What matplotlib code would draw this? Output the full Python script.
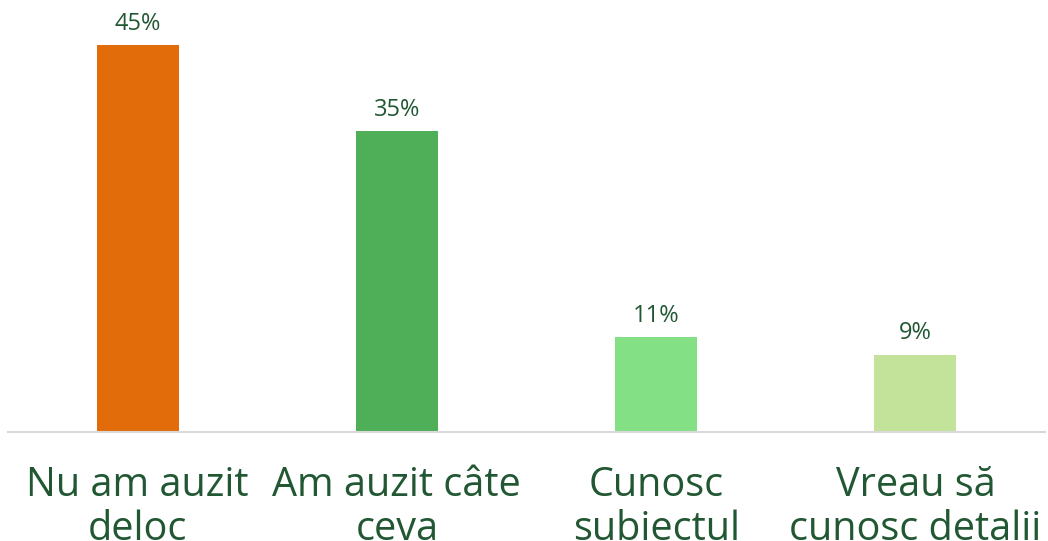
import matplotlib
matplotlib.use("Agg")
import matplotlib.pyplot as plt

categories = ["Nu am auzit\ndeloc", "Am auzit câte\nceva", "Cunosc\nsubiectul", "Vreau să\ncunosc detalii"]
values = [45, 35, 11, 9]
colors = ["#E36C0A", "#4FAF59", "#84E084", "#C3E39A"]
text_color = "#215732"

plt.rcParams['font.family'] = ['Open Sans', 'DejaVu Sans']

fig = plt.figure(figsize=(10.48, 5.41), dpi=100)
ax = fig.add_axes([8/1048, 1-432/541, 1037/1048, 430/541])
x = range(len(categories))
bars = ax.bar(x, values, width=0.316, color=colors)
ax.set_xlim(-0.5, len(categories)-0.5)
ax.set_ylim(0, 50)
for xi, v in zip(x, values):
    ax.text(xi, v + 1.1, f"{v}%", ha="center", va="bottom", fontsize=17, color=text_color)
ax.set_xticks(list(x))
ax.set_xticklabels(categories, fontsize=28.5, color=text_color, linespacing=1.12)
ax.tick_params(axis='x', length=0, pad=24)
ax.set_yticks([])
for s in ["top", "left", "right"]:
    ax.spines[s].set_visible(False)
ax.spines["bottom"].set_color("#D9D9D9")
ax.spines["bottom"].set_linewidth(1.5)
fig.savefig("out.png", dpi=100)
